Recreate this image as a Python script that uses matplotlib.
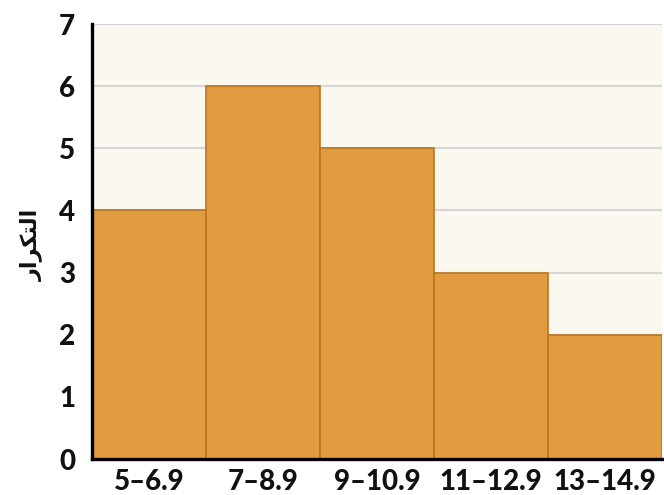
import matplotlib
matplotlib.use("Agg")
import matplotlib.pyplot as plt

# Data
classes = ["5–6.9", "7–8.9", "9–10.9", "11–12.9", "13–14.9"]
freq = [4, 6, 5, 3, 2]
y_ticks = [0, 1, 2, 3, 4, 5, 6, 7]
# "التكرار" written in presentation forms, visual order, since matplotlib does no Arabic shaping
y_label = "\ufead\ufe8d\ufeae\ufedc\ufe98\ufedf\ufe8d"

fig = plt.figure(figsize=(6.64, 4.95), dpi=100)
ax = fig.add_axes([0.1386, 0.0727, 0.8584, 0.8788])
ax.set_facecolor("#FBF8F0")

x = range(len(classes))
ax.bar(x, freq, width=1.0, color="#E39B42", edgecolor="#B8741E", linewidth=1.2, zorder=3)

ax.set_xlim(-0.5, len(classes) - 0.5)
ax.set_ylim(0, 7)
ax.set_yticks(y_ticks)
ax.set_xticks(list(x))
ax.set_xticklabels(classes)
ax.grid(axis="y", color="#D6D6D6", linewidth=1.5, zorder=0)

for lab in ax.get_xticklabels() + ax.get_yticklabels():
    lab.set_fontfamily("Lato")
    lab.set_fontweight("black")
    lab.set_fontsize(20)
    lab.set_color("#111111")
ax.tick_params(axis="x", length=0, pad=7)
ax.tick_params(axis="y", length=0, pad=12)

ax.spines["top"].set_visible(False)
ax.spines["right"].set_visible(False)
ax.spines["left"].set_linewidth(2.4)
ax.spines["bottom"].set_linewidth(2.4)
ax.spines["left"].set_zorder(5)
ax.spines["bottom"].set_zorder(5)

fig.text(0.048, 0.505, y_label, rotation=90, ha="center", va="center",
         fontsize=16, fontweight="bold", family=["DejaVu Sans"], color="#111111")

fig.savefig("out.png", dpi=100)
